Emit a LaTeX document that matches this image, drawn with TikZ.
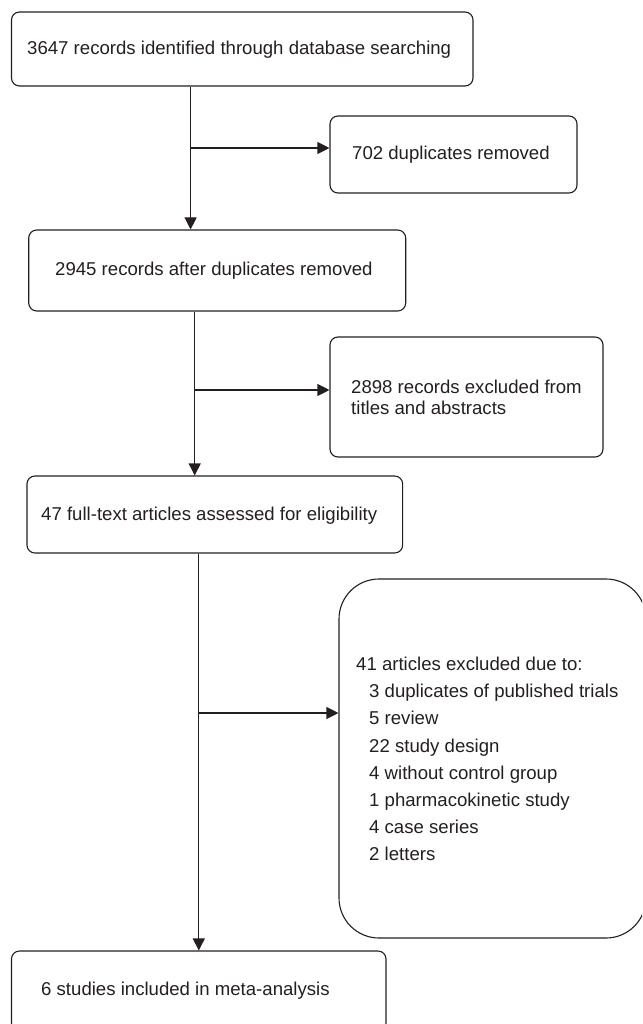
\documentclass[tikz,border=0pt]{standalone}
\usepackage{fontspec}
\setmainfont{Liberation Sans}
\usetikzlibrary{arrows.meta}
\definecolor{ink}{HTML}{231F20}
\begin{document}
\begin{tikzpicture}[x=1pt,y=-1pt,
  box/.style={draw=ink, line width=1.1pt, rounded corners=8pt, rectangle, inner sep=0pt},
  bigbox/.style={box, rounded corners=40pt},
  txt/.style={anchor=west, inner sep=0pt, align=left, text=ink,
    font=\fontsize{18.6}{21.3}\selectfont},
  conn/.style={draw=ink, line width=1.1pt},
  arr/.style={conn, -{Triangle[length=12pt,width=12pt]}}]
\useasboundingbox (0,0) rectangle (642,1024);
\clip (0,0) rectangle (642,1024);
% boxes
\node[box, minimum width=461.5pt, minimum height=74pt] (b1) at (242.25,49) {};
\node[box, minimum width=247pt, minimum height=77pt] (d1) at (453.5,154.5) {};
\node[box, minimum width=377pt, minimum height=81pt] (b2) at (217.2,270.5) {};
\node[box, minimum width=273pt, minimum height=120pt] (d2) at (466.5,397) {};
\node[box, minimum width=375.7pt, minimum height=77pt] (b3) at (214.8,514.5) {};
\node[bigbox, minimum width=307pt, minimum height=359pt] (d3) at (492.5,758.5) {};
\node[box, minimum width=374.5pt, minimum height=80pt] (b4) at (198.75,991) {};
% texts
\node[txt] (t1) at (27,50) {3647 records identified through database searching};
\node[txt] (t2) at (352,155) {702 duplicates removed};
\node[txt] (t3) at (55,271) {2945 records after duplicates removed};
\node[txt] (t4) at (351,397) {2898 records excluded from\\titles and abstracts};
\node[txt] (t5) at (41,516) {47 full-text articles assessed for eligibility};
\node[txt, font=\fontsize{18.6}{27.2}\selectfont] (t6) at (356,759) {41 articles excluded due to:\\
\hspace*{13pt}3 duplicates of published trials\\
\hspace*{13pt}5 review\\
\hspace*{13pt}22 study design\\
\hspace*{13pt}4 without control group\\
\hspace*{13pt}1 pharmacokinetic study\\
\hspace*{13pt}4 case series\\
\hspace*{13pt}2 letters};
\node[txt] (t7) at (41,991) {6 studies included in meta-analysis};
% connector columns and junctions
\coordinate (v1) at (190.6,0);
\coordinate (v2) at (194.7,0);
\coordinate (v3) at (198.8,0);
\coordinate (j1) at (190.6,148);
\coordinate (j2) at (194.7,390);
\coordinate (j3) at (198.8,713);
% connectors
\draw[arr] (b1.south -| v1) -- (b2.north -| v1);
\draw[arr] (j1) -- (d1.west |- j1);
\draw[arr] (b2.south -| v2) -- (b3.north -| v2);
\draw[arr] (j2) -- (d2.west |- j2);
\draw[arr] (b3.south -| v3) -- (b4.north -| v3);
\draw[arr] (j3) -- (d3.west |- j3);
\end{tikzpicture}
\end{document}
